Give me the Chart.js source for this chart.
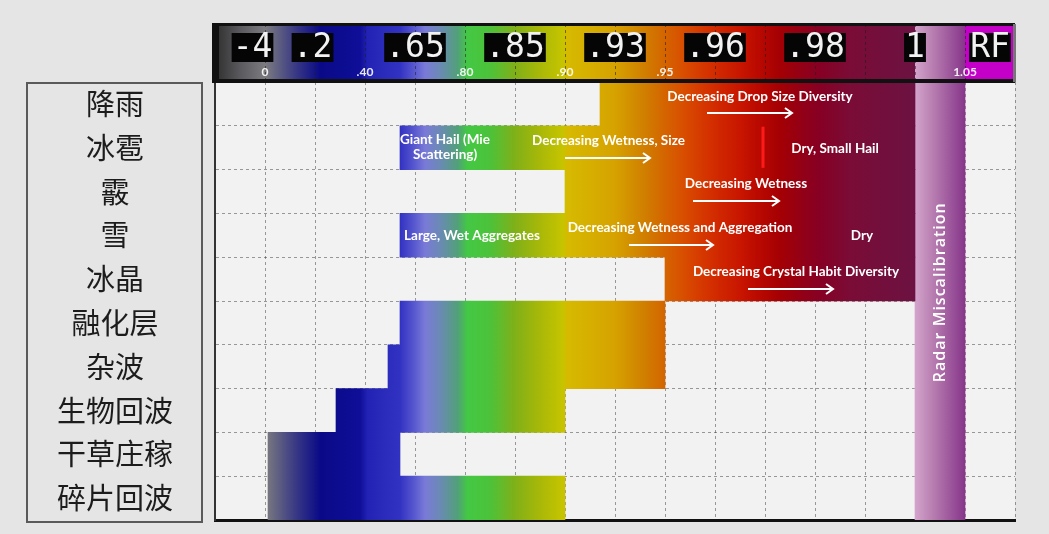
<!DOCTYPE html>
<html>
<head>
<meta charset="utf-8">
<script src="https://cdn.jsdelivr.net/npm/chart.js@4.4.0/dist/chart.umd.min.js"></script>
<style>
html, body { margin: 0; padding: 0; background: #e5e5e5; }
#wrap { width: 1049px; height: 534px; }
</style>
</head>
<body>
<div id="wrap"><canvas id="ccChart" width="1049" height="534"></canvas></div>
<script>
// 类别（行）
const categories = ['降雨', '冰雹', '霰', '雪', '冰晶', '融化层', '杂波', '生物回波', '干草庄稼', '碎片回波'];
// 每行CC范围，以网格列为单位（0 - 16）
const rangeStart = [7.7, 3.7, 7.0, 3.7, 9.0, 3.7, 3.46, 2.42, 1.06, 1.06];
const rangeEnd = [14, 14, 14, 14, 14, 9.0, 9.0, 7.0, 3.7, 7.0];
// 雷达误校准区
const miscalStart = 14;
const miscalEnd = 15;
// 色标上的数值
const colorbarLabels = ['-4', '.2', '.65', '.85', '.93', '.96', '.98', '1', 'RF'];
const colorbarLabelPos = [0.75, 1.95, 4, 6, 8, 10, 12, 14, 15.5];
// 色标下方的CC刻度
const ccTickLabels = ['0', '.40', '.80', '.90', '.95', '1.05'];
const ccTickPos = [1, 3, 5, 7, 9, 15];

// 文字说明
const notes = [
    {row: 0, at: 10.9, dy: -0.16, text: 'Decreasing Drop Size Diversity'},
    {row: 1, at: 4.6, dy: -0.18, text: 'Giant Hail (Mie'},
    {row: 1, at: 4.6, dy: 0.16, text: 'Scattering)'},
    {row: 1, at: 7.87, dy: -0.16, text: 'Decreasing Wetness, Size'},
    {row: 1, at: 12.4, dy: 0.02, text: 'Dry, Small Hail'},
    {row: 2, at: 10.62, dy: -0.19, text: 'Decreasing Wetness'},
    {row: 3, at: 5.14, dy: 0, text: 'Large, Wet Aggregates'},
    {row: 3, at: 9.3, dy: -0.18, text: 'Decreasing Wetness and Aggregation'},
    {row: 3, at: 12.94, dy: 0, text: 'Dry'},
    {row: 4, at: 11.62, dy: -0.16, text: 'Decreasing Crystal Habit Diversity'}
];
const arrows = [
    {row: 0, from: 9.84, to: 11.54, dy: 0.2},
    {row: 1, from: 7.0, to: 8.7, dy: 0.23},
    {row: 2, from: 9.56, to: 11.28, dy: 0.22},
    {row: 3, from: 8.28, to: 9.96, dy: 0.23},
    {row: 4, from: 10.66, to: 12.36, dy: 0.23}
];

// 色标颜色
const ccStops = [
    [0, '#2e2e2e'], [0.5, '#5a5a5e'], [1.0, '#7c7c80'], [1.6, '#3a3a84'], [2.1, '#0a0a88'],
    [2.9, '#0e0e98'], [3.05, '#2222b4'], [3.7, '#3232c2'], [4.0, '#5a5ad0'], [4.2, '#7a7ad8'],
    [4.5, '#6a8ab4'], [4.85, '#52a07a'], [5.05, '#44c844'], [5.5, '#4cc23a'], [6.0, '#80b018'],
    [6.5, '#a8b808'], [6.95, '#c6c400'], [7.05, '#d6ba00'], [8.0, '#d6a200'], [8.6, '#d07e00'],
    [9.0, '#d46400'], [9.3, '#d85200'], [9.7, '#d63a00'], [10.1, '#d02600'], [10.5, '#c81600'],
    [10.9, '#b80800'], [11.3, '#a40004'], [11.7, '#940014'], [12.1, '#860024'], [12.7, '#7a0c36'],
    [14.0, '#6c1242']
];
const miscalStops = [[14, '#d4a4cc'], [14.3, '#bc84b4'], [15, '#86368a']];

function ccGradient(chart, stops) {
    const {ctx, chartArea, scales} = chart;
    if (!chartArea || !scales.x) return '#888';
    const x0 = scales.x.getPixelForValue(0);
    const x1 = scales.x.getPixelForValue(16);
    const g = ctx.createLinearGradient(x0, 0, x1, 0);
    stops.forEach(s => g.addColorStop(s[0] / 16, s[1]));
    return g;
}

const decor = {
    id: 'decor',
    beforeDraw(chart) {
        const {ctx, chartArea: a} = chart;
        ctx.save();
        ctx.fillStyle = '#f2f2f2';
        ctx.fillRect(a.left, a.top, a.right - a.left, a.bottom - a.top);
        // 左侧标签框
        ctx.strokeStyle = '#5a5a5a';
        ctx.lineWidth = 2;
        ctx.strokeRect(27, a.top + 1, 175, a.bottom - a.top + 1);
        ctx.restore();
    },
    afterDraw(chart) {
        const {ctx, chartArea: a, scales: {x, y}} = chart;
        const px = v => x.getPixelForValue(v);
        const py = v => y.getPixelForValue(v);
        ctx.save();

        // 色标
        const top = a.top - 58, bot = a.top;
        ctx.fillStyle = ccGradient(chart, ccStops);
        ctx.fillRect(px(0), top, px(14) - px(0), bot - top);
        ctx.fillStyle = ccGradient(chart, miscalStops);
        ctx.fillRect(px(14), top, px(15) - px(14), bot - top);
        ctx.fillStyle = '#c400c8';
        ctx.fillRect(px(15), top, px(16) - px(15), bot - top);

        ctx.setLineDash([3, 3]);
        ctx.strokeStyle = 'rgba(30,30,30,0.55)';
        ctx.lineWidth = 1;
        for (let i = 1; i < 16; i++) {
            const xx = Math.round(px(i)) + 0.5;
            ctx.beginPath();
            ctx.moveTo(xx, top);
            ctx.lineTo(xx, bot);
            ctx.stroke();
        }
        ctx.setLineDash([]);

        ctx.fillStyle = '#111';
        ctx.fillRect(px(0) - 3, top - 1, px(16) - px(0) + 3, 3);
        ctx.fillRect(px(0) - 3, bot - 3, px(16) - px(0) + 3, 4);
        ctx.fillRect(px(0) - 3, top - 1, 7, bot - top + 1);
        ctx.fillStyle = '#777';
        ctx.fillRect(px(16) - 2, top, 3, bot - top);

        ctx.font = '33px "DejaVu Sans Mono"';
        ctx.textAlign = 'center';
        ctx.textBaseline = 'middle';
        colorbarLabels.forEach((t, i) => {
            const w = ctx.measureText(t).width + 2;
            const cx = px(colorbarLabelPos[i]);
            ctx.fillStyle = '#050505';
            ctx.fillRect(cx - w / 2, top + 9, w, 29);
            ctx.fillStyle = '#f2f2f2';
            ctx.fillText(t, cx, top + 24);
        });

        ctx.font = 'bold 12px Lato';
        ctx.fillStyle = 'rgba(255,255,255,0.9)';
        ccTickLabels.forEach((t, i) => ctx.fillText(t, px(ccTickPos[i]), top + 48));

        // 说明文字
        ctx.fillStyle = '#fff';
        ctx.font = 'bold 13.5px Lato';
        notes.forEach(n => ctx.fillText(n.text, px(n.at), py(n.row + n.dy)));

        // 箭头
        ctx.strokeStyle = '#fff';
        ctx.lineWidth = 2;
        arrows.forEach(r => {
            const yy = Math.round(py(r.row + r.dy));
            const x1 = px(r.from), x2 = px(r.to);
            ctx.beginPath();
            ctx.moveTo(x1, yy);
            ctx.lineTo(x2, yy);
            ctx.moveTo(x2 - 7, yy - 5);
            ctx.lineTo(x2, yy);
            ctx.lineTo(x2 - 7, yy + 5);
            ctx.stroke();
        });

        // 冰雹行的红线
        ctx.strokeStyle = '#ff1a1a';
        ctx.lineWidth = 3;
        ctx.beginPath();
        ctx.moveTo(px(10.96), py(1 - 0.48));
        ctx.lineTo(px(10.96), py(1 + 0.46));
        ctx.stroke();

        // 竖排文字
        ctx.translate(px(14.5), py(4.3));
        ctx.rotate(-Math.PI / 2);
        ctx.font = '600 16px "Open Sans"';
        ctx.letterSpacing = '1px';
        ctx.fillStyle = '#fff';
        ctx.fillText('Radar Miscalibration', 0, 0);
        ctx.restore();
    }
};

const ctx = document.getElementById('ccChart').getContext('2d');
new Chart(ctx, {
    type: 'bar',
    data: {
        labels: categories,
        datasets: [{
            label: 'CC范围',
            data: categories.map((c, i) => [rangeStart[i], rangeEnd[i]]),
            backgroundColor: c => ccGradient(c.chart, ccStops),
            grouped: false,
            barPercentage: 1,
            categoryPercentage: 1,
            borderWidth: 0
        }, {
            label: 'Radar Miscalibration',
            data: categories.map(() => [miscalStart, miscalEnd]),
            backgroundColor: c => ccGradient(c.chart, miscalStops),
            grouped: false,
            barPercentage: 1,
            categoryPercentage: 1,
            borderWidth: 0
        }]
    },
    options: {
        indexAxis: 'y',
        responsive: false,
        animation: false,
        layout: {padding: {top: 82, right: 34, bottom: 14, left: 0}},
        plugins: {
            legend: {display: false},
            tooltip: {enabled: false}
        },
        scales: {
            x: {
                type: 'linear',
                min: 0,
                max: 16,
                z: 1,
                afterFit: s => { s.height = 0; },
                ticks: {display: false, stepSize: 1},
                grid: {color: 'rgba(60,60,60,0.5)', lineWidth: 1, drawTicks: false},
                border: {display: true, color: '#111', width: 3, dash: [3, 3]}
            },
            y: {
                z: 1,
                afterFit: s => {
                    s.width = 215;
                    s.paddingTop = 0;
                    s.paddingBottom = 0;
                },
                grid: {offset: true, color: 'rgba(60,60,60,0.5)', lineWidth: 1, drawTicks: false},
                border: {display: true, color: '#333', width: 2, dash: [3, 3]},
                ticks: {
                    crossAlign: 'center',
                    padding: 42,
                    color: '#1c1c1c',
                    font: {family: '"Noto Sans CJK SC"', size: 29}
                }
            }
        }
    },
    plugins: [decor]
});
</script>
</body>
</html>
